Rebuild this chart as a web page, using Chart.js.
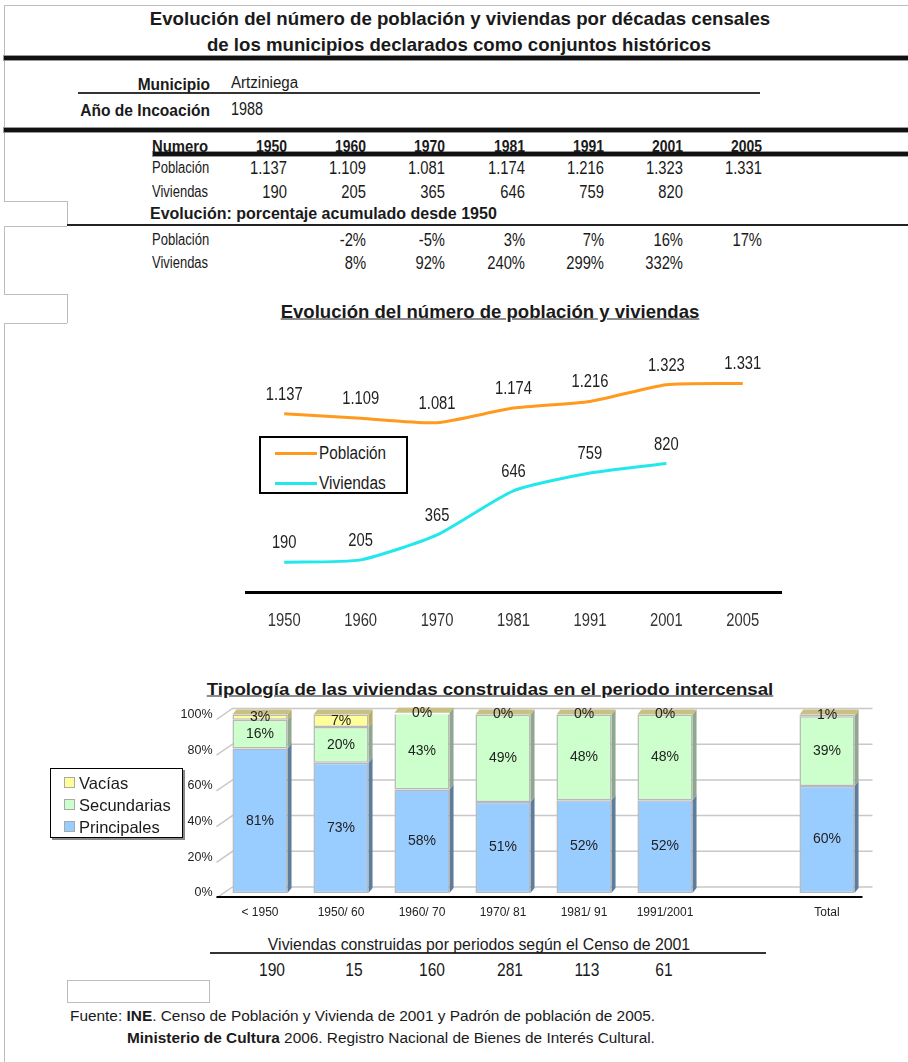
<!DOCTYPE html>
<html>
<head>
<meta charset="utf-8">
<script src="https://cdn.jsdelivr.net/npm/chart.js@4.4.0/dist/chart.umd.min.js"></script>
<style>
  body { margin: 0; background: #fff; }
  #page { position: relative; width: 908px; height: 1062px; overflow: hidden; background: #fff; color: #1a1a1a; }
  .t { position: absolute; white-space: nowrap; line-height: 1; }
  .r { position: absolute; }
  canvas { position: absolute; }
</style>
</head>
<body>
<div id="page">
  <canvas id="chart-line" width="560" height="300" style="left:240px;top:340px"></canvas>
  <canvas id="chart-bar" width="700" height="230" style="left:180px;top:700px"></canvas>
</div>
<script>
// ---- datos ----
const municipio = 'Artziniega';
const anioIncoacion = '1988';
const anios = ['1950', '1960', '1970', '1981', '1991', '2001', '2005'];
const poblacion = [1137, 1109, 1081, 1174, 1216, 1323, 1331];
const viviendas = [190, 205, 365, 646, 759, 820, null];
const evolPoblacion = [null, -2, -5, 3, 7, 16, 17];
const evolViviendas = [null, 8, 92, 240, 299, 332, null];

const periodos = ['< 1950', '1950/ 60', '1960/ 70', '1970/ 81', '1981/ 91', '1991/2001', '', 'Total'];
const principales = [81, 73, 58, 51, 52, 52, null, 60];
const secundarias = [16, 20, 43, 49, 48, 48, null, 39];
const vacias = [3, 7, 0, 0, 0, 0, null, 1];
const construidas = [190, 15, 160, 281, 113, 61];

// no hay Arial Narrow: Liberation Sans comprimida en horizontal
const SANS = '"Liberation Sans", Arial, sans-serif';
const ESTRECHO = 0.82;
const NARANJA = '#FF9A1E';
const CIAN = '#22E8EE';

let page = document.getElementById('page');

function miles(n) {
    return String(n).replace(/\B(?=(\d{3})+(?!\d))/g, '.');
}

// texto centrado verticalmente en y, comprimido (sx) o ajustado a un ancho (w)
function txt(x, y, str, o) {
    o = o || {};
    let d = document.createElement('div');
    d.className = 't';
    d.innerHTML = str;
    d.style.left = x + 'px';
    d.style.top = y + 'px';
    d.style.fontFamily = SANS;
    d.style.fontSize = (o.size || 16) + 'px';
    if (o.bold) d.style.fontWeight = 'bold';
    if (o.under) d.style.textDecoration = 'underline';
    if (o.ls) d.style.letterSpacing = o.ls + 'px';
    page.appendChild(d);
    let sx = o.sx == null ? ESTRECHO : o.sx;
    if (o.w) sx = o.w / d.offsetWidth;
    let align = o.align || 'left';
    let tx = align === 'right' ? '-100%' : (align === 'center' ? '-50%' : '0');
    d.style.transformOrigin = align + ' center';
    d.style.transform = 'translate(' + tx + ',-50%) scaleX(' + sx + ')';
    return d;
}

function rect(x, y, w, h, css) {
    let d = document.createElement('div');
    d.className = 'r';
    d.style.left = x + 'px';
    d.style.top = y + 'px';
    d.style.width = w + 'px';
    d.style.height = h + 'px';
    Object.assign(d.style, css);
    page.appendChild(d);
    return d;
}

// texto estrecho en canvas
function textoEstrecho(ctx, str, x, y) {
    ctx.save();
    ctx.translate(x, y);
    ctx.scale(ESTRECHO, 1);
    ctx.fillText(str, 0, 0);
    ctx.restore();
}

// ---- marco gris y reglas ----
const GRIS = '#bdbdbd';
rect(4, 5, 904, 1, {background: GRIS});
rect(4, 5, 1, 196, {background: GRIS});
rect(4, 201, 63, 1, {background: GRIS});
rect(67, 201, 1, 24, {background: GRIS});
rect(4, 226, 63, 1, {background: GRIS});
rect(4, 226, 1, 68, {background: GRIS});
rect(4, 294, 63, 1, {background: GRIS});
rect(67, 294, 1, 29, {background: GRIS});
rect(4, 323, 63, 1, {background: GRIS});
rect(4, 323, 1, 739, {background: GRIS});
rect(67, 980, 143, 23, {border: '1px solid ' + GRIS, boxSizing: 'border-box'});

rect(4, 56, 904, 4, {background: '#111', boxShadow: '0 0 0 1px #999'});
rect(4, 128, 904, 4, {background: '#111', boxShadow: '0 0 0 1px #999'});
rect(153, 152, 755, 4, {background: '#111', boxShadow: '0 0 0 1px #999'});
rect(78, 92, 682, 2, {background: '#333'});
rect(67, 224, 841, 2, {background: '#222'});
rect(210, 952, 556, 2, {background: '#333'});

// ---- cabecera ----
txt(460, 18, 'Evolución del número de población y viviendas por décadas censales', {align: 'center', bold: true, size: 19, w: 620});
txt(459, 44, 'de los municipios declarados como conjuntos históricos', {align: 'center', bold: true, size: 19, w: 504});
txt(210, 84, 'Municipio', {align: 'right', bold: true, size: 17, w: 72});
txt(231, 83, municipio, {size: 16, w: 67});
txt(210, 110, 'Año de Incoación', {align: 'right', bold: true, size: 17, w: 130});
txt(231, 109, anioIncoacion, {size: 18, w: 32});

// ---- tabla ----
const colDer = [287, 366, 445, 525, 604, 683, 762];
txt(152, 146, 'Numero', {bold: true, size: 17, w: 56});
txt(152, 168, 'Población', {size: 16, w: 57});
txt(152, 192, 'Viviendas', {size: 16, w: 56});
txt(150, 214, 'Evolución: porcentaje acumulado desde 1950', {bold: true, size: 16, w: 347});
txt(152, 240, 'Población', {size: 16, w: 57});
txt(152, 263, 'Viviendas', {size: 16, w: 56});
anios.forEach(function (a, i) {
    txt(colDer[i], 146, a, {align: 'right', bold: true, size: 17});
    txt(colDer[i], 168, miles(poblacion[i]), {align: 'right', size: 18});
    if (viviendas[i] != null) txt(colDer[i], 192, miles(viviendas[i]), {align: 'right', size: 18});
    if (evolPoblacion[i] != null) txt(colDer[i], 240, evolPoblacion[i] + '%', {align: 'right', size: 18});
    if (evolViviendas[i] != null) txt(colDer[i], 263, evolViviendas[i] + '%', {align: 'right', size: 18});
});

// ---- titulos de graficos ----
txt(490, 311, 'Evolución del número de población y viviendas', {align: 'center', bold: true, under: true, size: 19, w: 419});
txt(490, 689, 'Tipología de las viviendas construidas en el periodo intercensal', {align: 'center', bold: true, under: true, size: 17, w: 566});

// ---- viviendas construidas ----
txt(479, 944, 'Viviendas construidas por periodos según el Censo de 2001', {align: 'center', size: 17, w: 422});
const colCentro = [272, 354, 432, 510, 587, 664];
construidas.forEach(function (v, i) {
    txt(colCentro[i], 969, v, {align: 'center', size: 19});
});

// ---- fuente ----
txt(70, 1016, 'Fuente: <b>INE</b>. Censo de Población y Vivienda de 2001 y Padrón de población de 2005.', {size: 14, w: 585});
txt(127, 1038, '<b>Ministerio de Cultura</b> 2006. Registro Nacional de Bienes de Interés Cultural.', {size: 14, w: 528});

// ---- grafico de lineas ----
const etiquetasLinea = {
    id: 'etiquetasLinea',
    afterDatasetsDraw(chart) {
        let ctx = chart.ctx, xs = chart.scales.x, a = chart.chartArea;
        ctx.save();
        ctx.font = '18px ' + SANS;
        ctx.fillStyle = '#222';
        ctx.textAlign = 'center';
        ctx.textBaseline = 'middle';
        chart.data.datasets.forEach(function (ds, i) {
            chart.getDatasetMeta(i).data.forEach(function (pt, j) {
                if (ds.data[j] == null) return;
                textoEstrecho(ctx, miles(ds.data[j]), pt.x, pt.y - 19);
            });
        });
        // etiquetas del eje x
        ctx.fillStyle = '#333';
        chart.data.labels.forEach(function (lab, i) {
            textoEstrecho(ctx, lab, xs.getPixelForTick(i), a.bottom + 29);
        });
        ctx.restore();
    }
};

let lineChart = new Chart(document.getElementById('chart-line'), {
    type: 'line',
    data: {
        labels: anios,
        datasets: [
            {label: 'Población', data: poblacion, borderColor: NARANJA, borderWidth: 3, pointRadius: 0, tension: 0.2, fill: false},
            {label: 'Viviendas', data: viviendas, borderColor: CIAN, borderWidth: 3, pointRadius: 0, tension: 0.2, fill: false}
        ]
    },
    options: {
        responsive: false,
        animation: false,
        layout: {padding: {left: 6, right: 19, top: 17, bottom: 0}},
        plugins: {legend: {display: false}, tooltip: {enabled: false}},
        scales: {
            x: {
                offset: true,
                grid: {display: false, drawTicks: false},
                border: {color: '#000', width: 3},
                ticks: {display: false},
                afterFit: function (s) { s.height = 48; }
            },
            y: {display: false, min: 0, max: 1500}
        }
    },
    plugins: [etiquetasLinea]
});

// leyenda de lineas
rect(259, 436, 149, 58, {border: '2px solid #000', boxSizing: 'border-box', background: '#fff'});
lineChart.data.datasets.forEach(function (ds, i) {
    let y = 453 + i * 30;
    rect(275, y - 1.5, 42, 3, {background: ds.borderColor});
    txt(319, y, ds.label, {size: 18, w: 67});
});

// ---- grafico de barras 3D ----
const DX = 4, DY = 5;
const tresD = {
    id: 'tresD',
    beforeDatasetsDraw(chart) {
        let ctx = chart.ctx, a = chart.chartArea, ys = chart.scales.y;
        ctx.save();
        ctx.strokeStyle = '#c8c8c8';
        ctx.lineWidth = 1.5;
        ys.ticks.forEach(function (t) {
            let y = ys.getPixelForValue(t.value);
            ctx.beginPath();
            ctx.moveTo(a.left - 3, y + 5);
            ctx.lineTo(a.left + 13, y - 6);
            ctx.lineTo(a.right + 5, y - 6);
            ctx.stroke();
        });
        ctx.restore();
    },
    afterDatasetsDraw(chart) {
        let ctx = chart.ctx, a = chart.chartArea;
        let n = chart.data.datasets.length;
        ctx.save();
        chart.data.datasets.forEach(function (ds, i) {
            chart.getDatasetMeta(i).data.forEach(function (b, j) {
                if (ds.data[j] == null) return;
                let p = b.getProps(['x', 'y', 'base', 'width']);
                let r = p.x + p.width / 2, l = p.x - p.width / 2;
                ctx.fillStyle = ds.lado;
                ctx.beginPath();
                ctx.moveTo(r, p.y);
                ctx.lineTo(r + DX, p.y - DY);
                ctx.lineTo(r + DX, p.base - DY);
                ctx.lineTo(r, p.base);
                ctx.closePath();
                ctx.fill();
                if (i === n - 1) {
                    ctx.fillStyle = '#C9C183';
                    ctx.beginPath();
                    ctx.moveTo(l, p.y);
                    ctx.lineTo(l + DX, p.y - DY);
                    ctx.lineTo(r + DX, p.y - DY);
                    ctx.lineTo(r, p.y);
                    ctx.closePath();
                    ctx.fill();
                }
            });
        });
        // etiquetas
        ctx.font = '14px ' + SANS;
        ctx.fillStyle = '#222';
        ctx.textAlign = 'center';
        ctx.textBaseline = 'middle';
        chart.data.datasets.forEach(function (ds, i) {
            chart.getDatasetMeta(i).data.forEach(function (b, j) {
                if (ds.data[j] == null) return;
                let p = b.getProps(['x', 'y', 'base']);
                ctx.fillText(ds.data[j] + '%', p.x, (p.y + p.base) / 2);
            });
        });
        // eje x
        ctx.strokeStyle = '#000';
        ctx.lineWidth = 2;
        ctx.beginPath();
        ctx.moveTo(a.left - 3, a.bottom + 4);
        ctx.lineTo(a.right - 5, a.bottom + 4);
        ctx.stroke();
        ctx.restore();
    }
};

let barChart = new Chart(document.getElementById('chart-bar'), {
    type: 'bar',
    data: {
        labels: periodos,
        datasets: [
            {label: 'Principales', data: principales, backgroundColor: '#99CCFF', lado: '#5E7D9C'},
            {label: 'Secundarias', data: secundarias, backgroundColor: '#CCFFCC', lado: '#8FA68F'},
            {label: 'Vacías', data: vacias, backgroundColor: '#FFFF99', lado: '#B5AE68'}
        ]
    },
    options: {
        responsive: false,
        animation: false,
        layout: {padding: {left: 0, right: 12.5, top: 14, bottom: 0}},
        datasets: {bar: {barPercentage: 0.68, categoryPercentage: 1, borderColor: '#b8b8b8', borderWidth: 1.5, borderSkipped: false}},
        plugins: {legend: {display: false}, tooltip: {enabled: false}},
        scales: {
            x: {
                stacked: true,
                grid: {display: false, drawTicks: false},
                border: {display: false},
                ticks: {font: {family: SANS, size: 12}, color: '#222', padding: 12, autoSkip: false, maxRotation: 0},
                afterFit: function (s) { s.height = 37; }
            },
            y: {
                stacked: true,
                min: 0,
                max: 100,
                grid: {display: false, drawTicks: false},
                border: {display: false},
                ticks: {stepSize: 20, callback: function (v) { return v + '%'; }, font: {family: SANS, size: 12.5}, color: '#222', padding: 7},
                afterFit: function (s) { s.width = 39.5; }
            }
        }
    },
    plugins: [tresD]
});

// leyenda de barras (orden inverso)
rect(50, 768, 133, 70, {border: '1px solid #000', boxSizing: 'border-box', background: '#fff', boxShadow: '2px 2px 0 #888'});
barChart.data.datasets.slice().reverse().forEach(function (ds, i) {
    let y = 783 + i * 22;
    rect(64, y - 6, 11, 11, {background: ds.backgroundColor, border: '1px solid #aaa', boxSizing: 'border-box'});
    txt(79, y, ds.label, {size: 16.5, sx: 1});
});
</script>
</body>
</html>
